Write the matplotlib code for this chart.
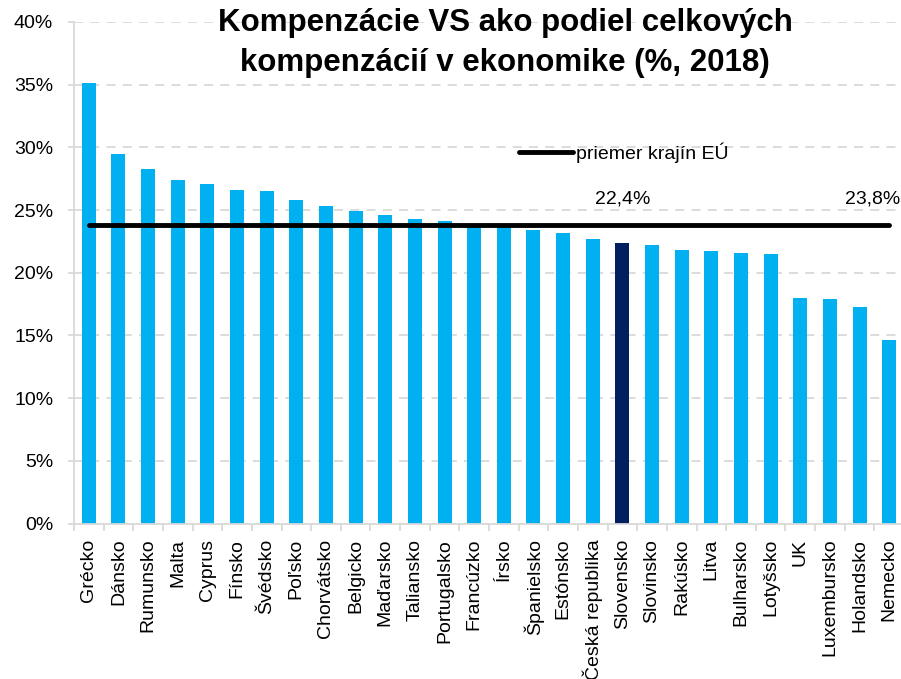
import numpy as np
import matplotlib.pyplot as plt
from matplotlib.ticker import FuncFormatter, MultipleLocator

# podiel kompenzácií VS na celkových kompenzáciách (%, 2018)
countries = ['Grécko', 'Dánsko', 'Rumunsko', 'Malta', 'Cyprus', 'Fínsko', 'Švédsko',
             'Poľsko', 'Chorvátsko', 'Belgicko', 'Maďarsko', 'Taliansko', 'Portugalsko',
             'Francúzko', 'Írsko', 'Španielsko', 'Estónsko', 'Česká republika',
             'Slovensko', 'Slovinsko', 'Rakúsko', 'Litva', 'Bulharsko', 'Lotyšsko',
             'UK', 'Luxembursko', 'Holandsko', 'Nemecko']
values = [35.1, 29.5, 28.3, 27.4, 27.1, 26.6, 26.5, 25.8, 25.3, 24.9, 24.6, 24.3, 24.1,
          23.7, 23.7, 23.4, 23.2, 22.7, 22.4, 22.2, 21.8, 21.7, 21.6, 21.5,
          18.0, 17.9, 17.3, 14.6]
eu_avg = 23.8
highlight = 'Slovensko'

plt.rcParams['font.family'] = ['Liberation Sans', 'DejaVu Sans']
FS = 14

fig = plt.figure(figsize=(9.01, 6.79), dpi=100)
ax = fig.add_axes([74/901, 155.5/679, 830/901, 501.5/679])

x = np.arange(len(countries))
colors = ['#002060' if c == highlight else '#00B0F0' for c in countries]
ax.bar(x, values, width=0.47, color=colors, zorder=2)

ax.plot(x, [eu_avg]*len(x), color='black', lw=3.5, solid_capstyle='round',
        zorder=3, label='priemer krajín EÚ')

hi = countries.index(highlight)
ax.text(hi, eu_avg + 2.1, f'{values[hi]:.1f}%'.replace('.', ','),
        ha='center', va='center', fontsize=FS)
ax.text(len(x) - 1 + 0.38, eu_avg + 2.1, f'{eu_avg:.1f}%'.replace('.', ','),
        ha='right', va='center', fontsize=FS)

ax.set_xlim(-0.5, len(x) - 0.5)
ax.set_ylim(0, 40)
ax.yaxis.set_major_locator(MultipleLocator(5))
ax.yaxis.set_major_formatter(FuncFormatter(lambda v, p: f'{v:.0f}%'))
ax.grid(axis='y', color='#D9D9D9', ls=(0, (5, 4)), lw=1.3, zorder=0)

ax.set_xticks(x)
ax.set_xticklabels(countries, rotation=90, fontsize=FS)
ax.set_xticks(np.arange(-0.5, len(x)), minor=True)
ax.tick_params(axis='x', which='major', length=0, pad=11)
ax.tick_params(axis='x', which='minor', length=5, color='#D9D9D9', width=1.3)
ax.tick_params(axis='y', length=4, color='#D9D9D9', width=1.3, pad=11, labelsize=FS)

for s in ['top', 'right']:
    ax.spines[s].set_visible(False)
for s in ['left', 'bottom']:
    ax.spines[s].set_color('#D9D9D9')
    ax.spines[s].set_linewidth(1.3)

ax.legend(loc='center left', bbox_to_anchor=(445/830, (523.5-153)/501.5),
          frameon=False, fontsize=FS, handlelength=2.8, handletextpad=0.15,
          borderpad=0, borderaxespad=0)

fig.text(505/901, 1 - 8/679, 'Kompenzácie VS ako podiel celkových\nkompenzácií v ekonomike (%, 2018)',
         ha='center', va='top', fontsize=22.5, fontweight='bold', linespacing=1.45)

fig.savefig('out.png', dpi=100)
